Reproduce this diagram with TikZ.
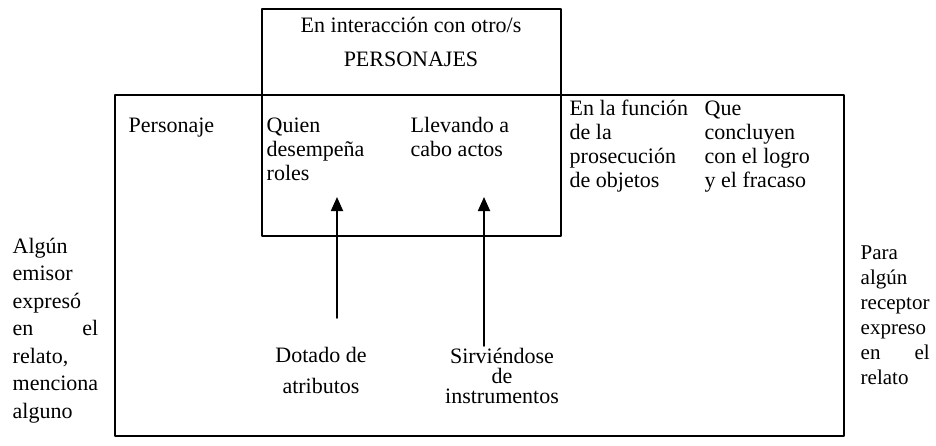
\documentclass[tikz,border=0pt]{standalone}
\usepackage{fontspec}
\setmainfont{Liberation Serif}
\usetikzlibrary{arrows.meta}
\begin{document}
\begin{tikzpicture}[x=0.5pt,y=-0.5pt,line join=round,line cap=round,>={Triangle[width=6pt,length=7pt]},line width=0.7pt]
	\tikzset{every node/.style={inner sep=0pt,font=\fontsize{11}{12}\selectfont},
		cell/.style={align=left,anchor=base west},
		side/.style={align=left,anchor=base west,font=\fontsize{11}{13.75}\selectfont}}
	\useasboundingbox (0,0) rectangle (936,445);
	% marcos
	\draw (262,9) rectangle (561,236);
	\draw (115,95) rectangle (844,436);
	% textos del recuadro superior (base = ultima linea)
	\node[anchor=base] (inter) at (411,32) {En interacción con otro/s};
	\node[anchor=base] (perso) at (411,66) {PERSONAJES};
	% celdas
	\node[cell] (personaje) at (128,132) {Personaje};
	\node[cell] (quien) at (266,180) {Quien\\desempeña\\roles};
	\node[cell] (llevando) at (410,156) {Llevando a\\cabo actos};
	\node[cell] (funcion) at (569,187) {En la función\\de la\\prosecución\\de objetos};
	\node[cell] (que) at (704,187) {Que\\concluyen\\con el logro\\y el fracaso};
	\node[anchor=base,align=center] (dotado) at (321,393) {Dotado de\\[3.5pt]atributos};
	\node[anchor=base,align=center,font=\fontsize{11}{10}\selectfont] (sirv) at (502,403) {Sirviéndose\\de\\instrumentos};
	% columnas laterales (text width: base = primera linea)
	\node[side,text width=42.8pt] (emisor) at (12,253) {Algún\\emisor\\expresó\\en\hfill el\\relato,\\menciona\\alguno};
	\node[side,text width=34.5pt,font=\fontsize{10.5}{12.5}\selectfont] (receptor) at (860,259) {Para\\algún\\receptor\\expreso\\en\hfill el\\relato};
	% flechas
	\coordinate (a1) at (337,318);
	\coordinate (b1) at (337,197);
	\coordinate (a2) at (484,346);
	\coordinate (b2) at (484,197);
	\draw[->,line width=0.9pt] (a1)--(b1);
	\draw[->,line width=0.9pt] (a2)--(b2);
\end{tikzpicture}
\end{document}
